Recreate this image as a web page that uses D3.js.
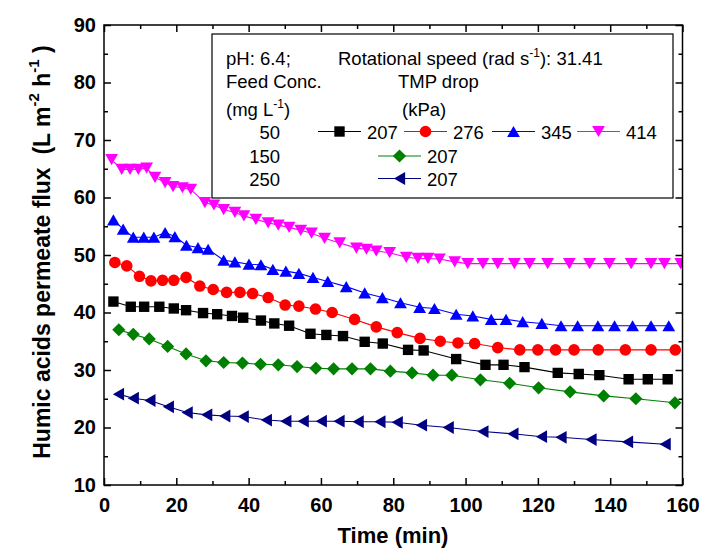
<!DOCTYPE html>
<html>
<head>
<meta charset="utf-8">
<script src="https://cdn.jsdelivr.net/npm/d3@7"></script>
<style>
  body { margin: 0; background: #fff; }
  svg { display: block; }
  text { font-family: "Liberation Sans", Arial, sans-serif; fill: #000; }
</style>
</head>
<body>
<svg id="chart" width="703" height="550"></svg>
<script>
// Humic acid permeate flux vs. time, pH 6.4, rotational speed 31.41 rad/s

// Feed 50 mg/L, TMP drop 207 kPa
const time_50_207 = [2.6, 7.4, 11.1, 15.3, 19.3, 22.7, 27.4, 31.3, 35.4, 38.5, 43.4, 47.1, 51.2, 57.1, 61.5, 66.1, 72.1, 77.1, 84.1, 88.4, 97.4, 105.5, 110.5, 116.3, 125.5, 131.3, 137.0, 145.1, 150.4, 155.9];
const flux_50_207 = [41.9, 41.0, 41.0, 41.0, 40.7, 40.4, 39.9, 39.7, 39.4, 39.1, 38.6, 38.1, 37.7, 36.3, 36.1, 35.9, 34.9, 34.6, 33.5, 33.4, 31.9, 30.9, 30.9, 30.5, 29.5, 29.3, 29.1, 28.4, 28.4, 28.4];

// Feed 50 mg/L, TMP drop 276 kPa
const time_50_276 = [3.0, 6.3, 9.8, 13.0, 16.2, 19.3, 22.7, 26.5, 30.2, 33.9, 37.6, 41.1, 45.4, 50.1, 53.9, 58.5, 63.1, 69.3, 75.3, 81.1, 87.4, 93.0, 97.9, 102.5, 108.9, 115.0, 120.0, 124.9, 130.0, 136.7, 144.2, 151.3, 158.0];
const flux_50_276 = [48.7, 48.1, 46.3, 45.5, 45.6, 45.6, 46.1, 44.6, 44.0, 43.5, 43.5, 43.3, 42.6, 41.3, 41.1, 40.6, 40.0, 38.8, 37.5, 36.5, 35.5, 35.0, 34.7, 34.6, 33.9, 33.5, 33.5, 33.5, 33.5, 33.5, 33.5, 33.5, 33.5];

// Feed 50 mg/L, TMP drop 345 kPa
const time_50_345 = [2.6, 5.3, 8.1, 11.0, 13.8, 16.9, 19.6, 22.8, 26.0, 28.8, 33.1, 36.2, 40.1, 43.4, 46.7, 50.3, 53.9, 57.8, 61.9, 67.0, 72.1, 77.0, 82.0, 87.3, 91.4, 97.4, 102.0, 107.1, 111.2, 115.8, 121.1, 126.4, 131.0, 136.6, 141.2, 146.2, 151.3, 156.2];
const flux_50_345 = [56.1, 54.5, 53.1, 53.1, 53.1, 53.9, 53.2, 51.7, 51.3, 51.0, 49.1, 48.8, 48.4, 48.3, 47.5, 47.2, 46.8, 46.1, 45.4, 44.5, 43.4, 42.6, 41.7, 40.9, 40.7, 39.7, 39.4, 38.8, 38.8, 38.4, 38.1, 37.7, 37.7, 37.7, 37.7, 37.7, 37.7, 37.7];

// Feed 50 mg/L, TMP drop 414 kPa
const time_50_414 = [2.1, 4.9, 7.2, 9.5, 11.8, 14.1, 16.9, 19.1, 21.7, 24.0, 27.9, 30.4, 33.1, 36.2, 38.7, 42.0, 45.4, 48.2, 51.2, 54.4, 57.4, 61.0, 65.2, 69.8, 72.6, 75.3, 79.0, 83.6, 86.8, 89.6, 92.8, 97.0, 100.6, 104.8, 108.9, 113.5, 117.7, 122.7, 128.7, 134.3, 139.8, 145.8, 151.3, 155.0, 159.5];
const flux_50_414 = [66.6, 64.9, 64.9, 64.9, 65.1, 63.5, 62.6, 61.9, 61.7, 61.4, 59.1, 58.7, 57.9, 57.4, 56.8, 56.2, 55.6, 55.2, 54.8, 54.3, 53.8, 52.9, 52.1, 51.2, 51.0, 50.7, 50.4, 49.6, 49.4, 49.4, 49.3, 48.8, 48.5, 48.5, 48.5, 48.5, 48.5, 48.5, 48.5, 48.5, 48.5, 48.5, 48.5, 48.5, 48.5];

// Feed 150 mg/L, TMP drop 207 kPa
const time_150_207 = [4.1, 8.1, 12.5, 17.6, 22.7, 28.2, 33.1, 38.3, 43.3, 48.2, 53.4, 58.6, 63.5, 68.6, 73.7, 79.2, 85.2, 91.0, 96.2, 104.1, 112.2, 120.2, 128.9, 138.2, 147.1, 157.9];
const flux_150_207 = [37.0, 36.2, 35.4, 34.1, 32.8, 31.6, 31.3, 31.2, 31.0, 30.9, 30.6, 30.3, 30.2, 30.2, 30.2, 29.8, 29.5, 29.1, 29.1, 28.3, 27.7, 26.9, 26.2, 25.5, 25.0, 24.3];

// Feed 250 mg/L, TMP drop 207 kPa
const time_250_207 = [4.0, 8.1, 12.7, 17.8, 23.0, 28.4, 33.4, 38.5, 44.9, 50.3, 55.1, 60.1, 65.0, 70.3, 76.3, 81.1, 87.8, 95.2, 104.8, 113.1, 121.0, 126.4, 134.7, 144.8, 155.2];
const flux_250_207 = [25.8, 25.1, 24.7, 23.6, 22.6, 22.2, 22.0, 21.9, 21.3, 21.1, 21.1, 21.1, 21.1, 21.0, 21.0, 20.9, 20.4, 20.0, 19.3, 18.9, 18.4, 18.3, 17.9, 17.5, 17.1];

// Axis ticks
const xTicks = [0, 20, 40, 60, 80, 100, 120, 140, 160];
const xMinorTicks = [10, 30, 50, 70, 90, 110, 130, 150];
const yTicks = [10, 20, 30, 40, 50, 60, 70, 80, 90];
const yMinorTicks = [15, 25, 35, 45, 55, 65, 75, 85];

// Legend text
const feedConcLabels = ["50", "150", "250"];
const tmpLabels = ["207", "276", "345", "414", "207", "207"];

const series = [
  { t: time_50_207,  v: flux_50_207,  color: "#000000", shape: "square",   row: 0, col: 0, label: tmpLabels[0] },
  { t: time_50_276,  v: flux_50_276,  color: "#ff0000", shape: "circle",   row: 0, col: 1, label: tmpLabels[1] },
  { t: time_50_345,  v: flux_50_345,  color: "#0000ff", shape: "triUp",    row: 0, col: 2, label: tmpLabels[2] },
  { t: time_50_414,  v: flux_50_414,  color: "#ff00ff", shape: "triDown",  row: 0, col: 3, label: tmpLabels[3] },
  { t: time_150_207, v: flux_150_207, color: "#008000", shape: "diamond",  row: 1, col: 0.5, label: tmpLabels[4] },
  { t: time_250_207, v: flux_250_207, color: "#000080", shape: "triLeft",  row: 2, col: 0.5, label: tmpLabels[5] }
];

const svg = d3.select("#chart");
svg.append("rect").attr("width", 703).attr("height", 550).attr("fill", "#fff");

const plot = { left: 104, right: 682.5, top: 25, bottom: 485 };
const x = d3.scaleLinear().domain([0, 160]).range([plot.left, plot.right]);
const y = d3.scaleLinear().domain([10, 90]).range([plot.bottom, plot.top]);

// Marker shapes, each centred on its bounding box
function markerPath(shape) {
  switch (shape) {
    case "square":  return "M-5.2,-5.2H5.2V5.2H-5.2Z";
    case "circle":  return "M5.8,0A5.8,5.8 0 1,1 -5.8,0A5.8,5.8 0 1,1 5.8,0Z";
    case "triUp":   return "M0,-5.6L6.4,5.6H-6.4Z";
    case "triDown": return "M0,5.6L6.4,-5.6H-6.4Z";
    case "diamond": return "M0,-6.6L6.6,0L0,6.6L-6.6,0Z";
    case "triLeft": return "M-5.6,0L5.6,-6.4V6.4Z";
  }
}

// Clip region for the data
svg.append("defs").append("clipPath").attr("id", "plotClip")
  .append("rect")
  .attr("x", plot.left).attr("y", plot.top)
  .attr("width", plot.right - plot.left).attr("height", plot.bottom - plot.top);

const dataG = svg.append("g").attr("clip-path", "url(#plotClip)");
const line = d3.line().x(d => x(d[0])).y(d => y(d[1]));

series.forEach(s => {
  const pts = s.t.map((t, i) => [t, s.v[i]]);
  dataG.append("path")
    .attr("d", line(pts))
    .attr("fill", "none")
    .attr("stroke", s.color)
    .attr("stroke-width", 1.1);
  dataG.selectAll(null).data(pts).enter().append("path")
    .attr("d", markerPath(s.shape))
    .attr("transform", d => `translate(${x(d[0])},${y(d[1])})`)
    .attr("fill", s.color);
});

// Axes: major + minor ticks pointing inward on all four sides
const tickFont = g => g.selectAll("text")
  .style("font-size", "20px").style("font-weight", "bold")
  .style("font-family", '"Liberation Sans", Arial, sans-serif');

function addAxis(axisGen, scale, transform, ticks, size, labels, pad) {
  const a = axisGen(scale).tickValues(ticks).tickSize(-size).tickPadding(pad || 3);
  if (!labels) a.tickFormat("");
  else a.tickFormat(d3.format("d"));
  const g = svg.append("g").attr("transform", transform).call(a);
  g.select(".domain").remove();
  g.selectAll("line").attr("stroke", "#000").attr("stroke-width", 1.5);
  if (labels) tickFont(g);
  return g;
}

addAxis(d3.axisBottom, x, `translate(0,${plot.bottom})`, xTicks, 7, true, 13);
addAxis(d3.axisBottom, x, `translate(0,${plot.bottom})`, xMinorTicks, 4, false);
addAxis(d3.axisTop, x, `translate(0,${plot.top})`, xTicks, 7, false);
addAxis(d3.axisTop, x, `translate(0,${plot.top})`, xMinorTicks, 4, false);
addAxis(d3.axisLeft, y, `translate(${plot.left},0)`, yTicks, 7, true, 8);
addAxis(d3.axisLeft, y, `translate(${plot.left},0)`, yMinorTicks, 4, false);
addAxis(d3.axisRight, y, `translate(${plot.right},0)`, yTicks, 7, false);
addAxis(d3.axisRight, y, `translate(${plot.right},0)`, yMinorTicks, 4, false);

svg.append("rect")
  .attr("x", plot.left).attr("y", plot.top)
  .attr("width", plot.right - plot.left).attr("height", plot.bottom - plot.top)
  .attr("fill", "none").attr("stroke", "#000").attr("stroke-width", 1.5);

// Axis titles
svg.append("text")
  .attr("x", 393).attr("y", 543)
  .attr("text-anchor", "middle")
  .style("font-size", "22px").style("font-weight", "bold")
  .text("Time (min)");

const yTitle = svg.append("text")
  .attr("transform", "translate(50,252) rotate(-90)")
  .attr("text-anchor", "middle")
  .style("font-size", "23px").style("font-weight", "bold")
  .style("white-space", "pre");
yTitle.append("tspan").text("Humic acids permeate flux  (L m");
yTitle.append("tspan").attr("dy", -11).style("font-size", "15px").text("-2");
yTitle.append("tspan").attr("dy", 11).text(" h");
yTitle.append("tspan").attr("dy", -11).style("font-size", "15px").text("-1");
yTitle.append("tspan").attr("dy", 11).text(" )");

// Legend
const lg = svg.append("g");
lg.append("rect")
  .attr("x", 212).attr("y", 34).attr("width", 461).attr("height", 164)
  .attr("fill", "#fff").attr("stroke", "#000").attr("stroke-width", 1.2);

const lgFont = "18.5px";
function lgText(xp, yp, anchor) {
  return lg.append("text").attr("x", xp).attr("y", yp)
    .attr("text-anchor", anchor || "start")
    .style("font-size", lgFont).style("white-space", "pre");
}
lgText(226, 65).text("pH: 6.4;");
const rs = lgText(338, 65);
rs.append("tspan").text("Rotational speed (rad s");
rs.append("tspan").attr("dy", -8).style("font-size", "12px").text("-1");
rs.append("tspan").attr("dy", 8).text("): 31.41");
lgText(226, 88).text("Feed Conc.");
lgText(398, 88).text("TMP drop");
const mg = lgText(226, 116);
mg.append("tspan").text("(mg L");
mg.append("tspan").attr("dy", -8).style("font-size", "12px").text("-1");
mg.append("tspan").attr("dy", 8).text(")");
lgText(402, 116).text("(kPa)");

const rowY = [131.5, 156, 178.5];
feedConcLabels.forEach((c, i) => lgText(280, rowY[i] + 7, "end").text(c));

const colX = { 0: 318, 1: 404, 2: 492, 3: 577, 0.5: 378 };
series.forEach(s => {
  const x0 = colX[s.col], yy = rowY[s.row];
  lg.append("line").attr("x1", x0).attr("x2", x0 + 43)
    .attr("y1", yy).attr("y2", yy)
    .attr("stroke", s.color).attr("stroke-width", 1.1);
  lg.append("path").attr("d", markerPath(s.shape))
    .attr("transform", `translate(${x0 + 21.5},${yy})`)
    .attr("fill", s.color);
  lgText(x0 + 49, yy + 7).text(s.label);
});
</script>
</body>
</html>
